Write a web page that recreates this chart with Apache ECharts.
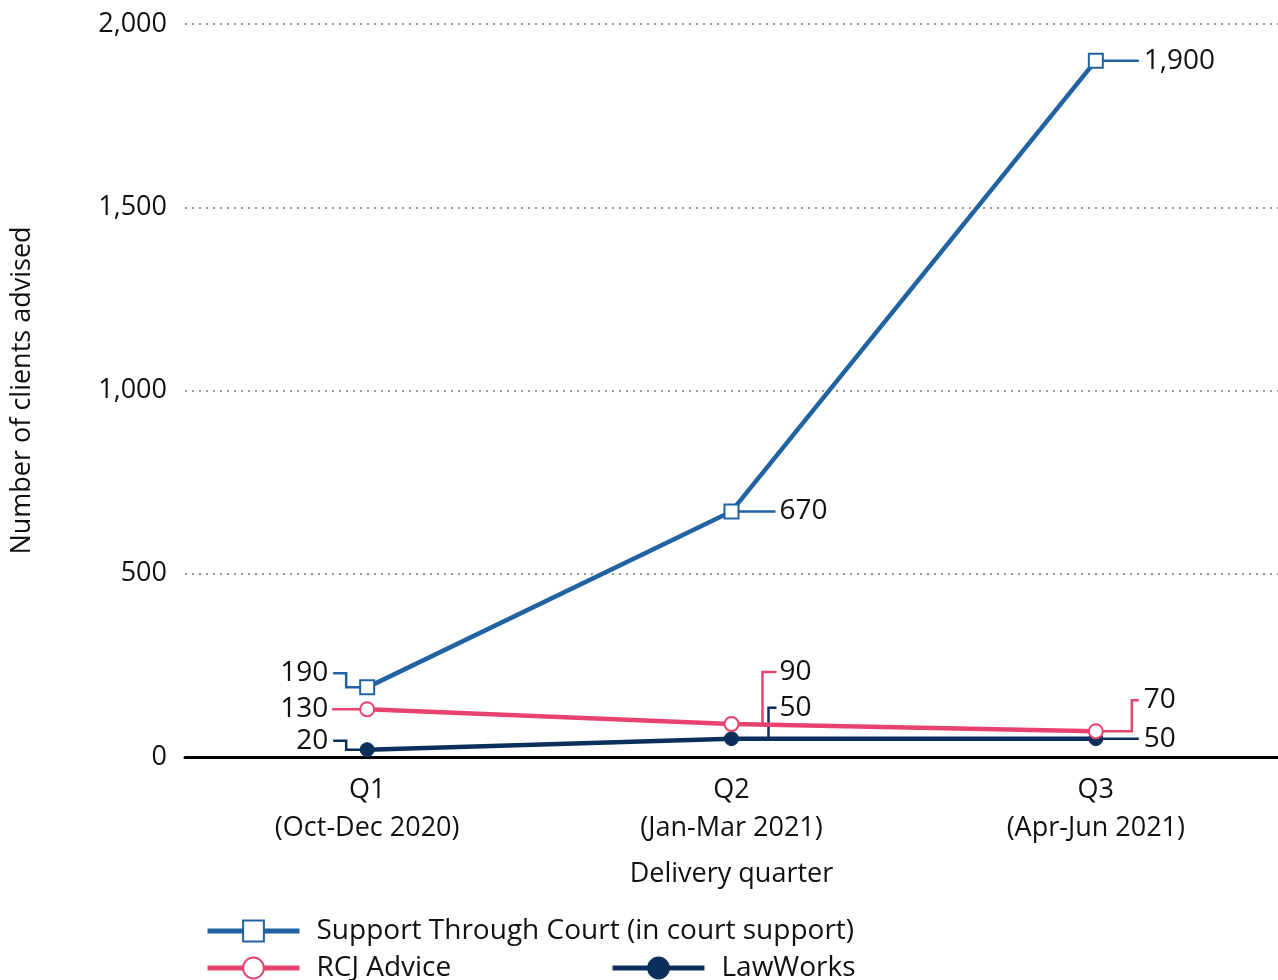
<!DOCTYPE html>
<html>
<head>
<meta charset="utf-8">
<title>Number of clients advised by delivery quarter</title>
<script src="https://cdn.jsdelivr.net/npm/echarts@6/dist/echarts.min.js"></script>
<style>
  html, body { margin: 0; padding: 0; background: #ffffff; }
  #chart { width: 1278px; height: 980px; }
</style>
</head>
<body>
<div id="chart"></div>
<script>
// Delivery quarters (x axis)
const quarters = ['Q1\n(Oct-Dec 2020)', 'Q2\n(Jan-Mar 2021)', 'Q3\n(Apr-Jun 2021)'];

// Clients advised per service
const supportThroughCourt = [190, 670, 1900];
const rcjAdvice = [130, 90, 70];
const lawWorks = [20, 50, 50];

// Y axis ticks
const yTicks = [0, 500, 1000, 1500, 2000];

const names = {
  stc: 'Support Through Court (in court support)',
  rcj: 'RCJ Advice',
  lw: 'LawWorks'
};
const colors = { stc: '#2163a2', rcj: '#e8426e', lw: '#0b2f5b' };
const FONT = '"Open Sans", "Noto Sans", sans-serif';

// Leader line shapes for the value labels, as pixel offsets from each point.
// path: polyline points [dx, dy]; label: [dx, dy, align]
const leaders = {
  stc: [
    { path: [[-34, -14], [-21, -14], [-21, 0], [-7, 0]], label: [-39, -14, 'right'] },
    { path: [[0, 0], [44, 0]], label: [48, 0, 'left'] },
    { path: [[0, 0], [43, 0]], label: [48, 0, 'left'] }
  ],
  rcj: [
    { path: [[-35, 0], [0, 0]], label: [-39, 0, 'right'] },
    { path: [[45, -52], [31, -52], [31, 1]], label: [48, -52, 'left'] },
    { path: [[0, 0], [36, 0], [36, -31], [43, -31]], label: [48, -31, 'left'] }
  ],
  lw: [
    { path: [[-34, -9], [-21, -9], [-21, 0], [0, 0]], label: [-39, -9, 'right'] },
    { path: [[45, -31], [37, -31], [37, 0]], label: [48, -31, 'left'] },
    { path: [[0, 0], [43, 0]], label: [48, 0, 'left'] }
  ]
};

const seriesValues = { stc: supportThroughCourt, rcj: rcjAdvice, lw: lawWorks };
const annotationData = [];
['stc', 'rcj', 'lw'].forEach(function (key) {
  seriesValues[key].forEach(function (v, i) {
    annotationData.push({ value: [i, v], key: key, idx: i });
  });
});

function fmt(v) {
  return v.toLocaleString('en-GB');
}

const chart = echarts.init(document.getElementById('chart'), null, { renderer: 'canvas' });

const legendCommon = {
  itemWidth: 92,
  itemHeight: 26,
  lineStyle: { width: 5 },
  textStyle: { fontSize: 28, color: '#111', fontFamily: FONT, padding: [0, 0, 0, 12] }
};

const option = {
  backgroundColor: '#ffffff',
  animation: false,
  textStyle: { fontFamily: FONT },
  grid: { left: 185, right: 0, top: 24, bottom: 223, containLabel: false, outerBoundsMode: 'none' },
  xAxis: {
    type: 'category',
    data: quarters,
    boundaryGap: true,
    name: 'Delivery quarter',
    nameLocation: 'middle',
    nameGap: 104,
    nameTextStyle: { fontSize: 27, color: '#111', fontFamily: FONT },
    axisLine: { show: true, lineStyle: { color: '#000', width: 3 } },
    axisTick: { show: false },
    axisLabel: { fontSize: 27, color: '#111', lineHeight: 38, margin: 14, fontFamily: FONT },
    splitLine: { show: false }
  },
  yAxis: {
    type: 'value',
    min: yTicks[0],
    max: yTicks[yTicks.length - 1],
    interval: yTicks[1] - yTicks[0],
    name: 'Number of clients advised',
    nameLocation: 'middle',
    nameGap: 149,
    nameRotate: 90,
    nameTextStyle: { fontSize: 27, color: '#111', fontFamily: FONT },
    axisLine: { show: false },
    axisTick: { show: false },
    axisLabel: {
      fontSize: 27, color: '#111', margin: 18, fontFamily: FONT,
      formatter: function (v) { return fmt(v); }
    },
    splitLine: { show: true, lineStyle: { color: '#9a9a9a', width: 2, type: [2, 5] } }
  },
  legend: [
    Object.assign({ data: [names.stc], left: 200, top: 912 }, legendCommon),
    Object.assign({ data: [names.rcj], left: 200, top: 949 }, legendCommon),
    Object.assign({ data: [names.lw], left: 605, top: 949 }, legendCommon)
  ],
  series: [
    {
      name: 'annotations',
      type: 'custom',
      z: 1,
      silent: true,
      data: annotationData,
      encode: { x: 0, y: 1 },
      renderItem: function (params, api) {
        const item = annotationData[params.dataIndex];
        const p = api.coord([api.value(0), api.value(1)]);
        const spec = leaders[item.key][item.idx];
        const col = colors[item.key];
        const pts = spec.path.map(function (d) { return [p[0] + d[0], p[1] + d[1]]; });
        return {
          type: 'group',
          children: [
            {
              type: 'polyline',
              shape: { points: pts },
              style: { stroke: col, lineWidth: 2.5, fill: null }
            },
            {
              type: 'text',
              x: p[0] + spec.label[0],
              y: p[1] + spec.label[1],
              style: {
                text: fmt(api.value(1)),
                fill: '#111',
                font: '28px ' + FONT,
                align: spec.label[2],
                verticalAlign: 'middle'
              }
            }
          ]
        };
      }
    },
    {
      name: names.stc,
      type: 'line',
      z: 4,
      data: supportThroughCourt,
      symbol: 'rect',
      symbolSize: 14,
      lineStyle: { color: colors.stc, width: 4.5 },
      itemStyle: { color: '#ffffff', borderColor: colors.stc, borderWidth: 2 },
      color: colors.stc
    },
    {
      name: names.rcj,
      type: 'line',
      z: 3,
      data: rcjAdvice,
      symbol: 'circle',
      symbolSize: 14,
      lineStyle: { color: colors.rcj, width: 4.5 },
      itemStyle: { color: '#ffffff', borderColor: colors.rcj, borderWidth: 2 },
      color: colors.rcj
    },
    {
      name: names.lw,
      type: 'line',
      z: 2,
      data: lawWorks,
      symbol: 'circle',
      symbolSize: 14,
      lineStyle: { color: colors.lw, width: 4.5 },
      itemStyle: { color: colors.lw, borderColor: colors.lw, borderWidth: 1 },
      color: colors.lw
    }
  ]
};

chart.setOption(option);
</script>
</body>
</html>
